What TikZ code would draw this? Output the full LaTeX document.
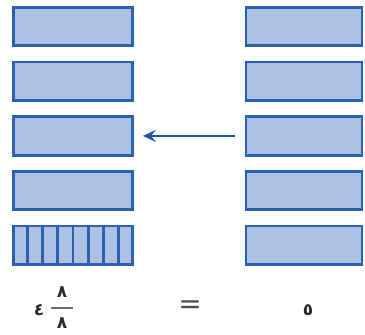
\documentclass[tikz,border=0pt]{standalone}
\usepackage{fontspec}
\newfontfamily\arabicfont[Script=Arabic]{DejaVu Sans}
\usetikzlibrary{positioning,arrows.meta,calc}
\definecolor{barfill}{HTML}{AEC0E4}
\definecolor{bardraw}{HTML}{2A62B0}
\definecolor{pointerblue}{HTML}{1F56A5}
\definecolor{digitgray}{HTML}{2B2B2B}
\tikzset{
  whole/.style={draw=bardraw, fill=barfill, line width=2.8pt, inner sep=0pt,
    minimum width=119pt, minimum height=38.5pt},
  eighth/.style={draw=bardraw, line width=2.6pt},
  pointer/.style={draw=pointerblue, line width=2pt,
    -{Stealth[length=13pt,width=12pt,inset=5pt]}},
  digit/.style={text=digitgray, font=\arabicfont\bfseries\fontsize{17}{17}\selectfont, inner sep=0pt}
}

\begin{document}
\begin{tikzpicture}[x=1pt, y=1pt, node distance=13.4pt]
    \useasboundingbox (0,0) rectangle (365,-335);

    % left column
    \node[whole] (l1) at (73,-26.5) {};
    \node[whole, below=of l1] (l2) {};
    \node[whole, below=of l2] (l3) {};
    \node[whole, below=of l3] (l4) {};
    \node[whole, below=of l4] (l5) {};
    \foreach \k in {1,...,7}
      \draw[eighth] ($(l5.north west)!\k/8!(l5.north east)$) -- ($(l5.south west)!\k/8!(l5.south east)$);

    % right column
    \node[whole, minimum width=116pt] (r1) at (304,-26.5) {};
    \node[whole, minimum width=116pt, below=of r1] (r2) {};
    \node[whole, minimum width=116pt, below=of r2] (r3) {};
    \node[whole, minimum width=116pt, below=of r3] (r4) {};
    \node[whole, minimum width=116pt, below=of r4] (r5) {};

    \draw[pointer, shorten <=10pt, shorten >=9pt] (r3.west) -- (l3.east);

    % bottom line
    \node[digit] (four) at (39,-310) {٤};
    \node[digit] (num) at (62,-292) {٨};
    \node[digit] (den) at (62,-323) {٨};
    \draw[draw=digitgray!70, line width=2pt] ($(num.south)!0.5!(den.north)+(-11,0)$) coordinate (barl) -- ++(22,0) coordinate (barr);
    \node[text=digitgray!85, font=\arabicfont\fontsize{28}{28}\selectfont, inner sep=0pt] (eq) at (190,-307) {=};
    \node[digit] (five) at (308,-310) {٥};
\end{tikzpicture}
\end{document}
